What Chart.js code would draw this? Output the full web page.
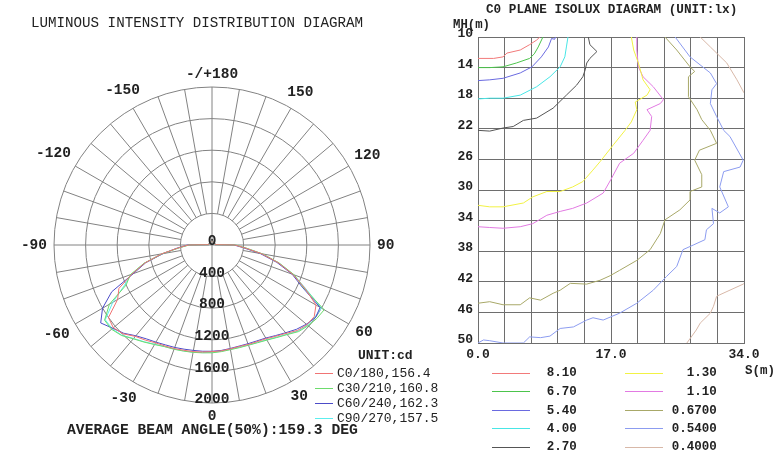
<!DOCTYPE html>
<html>
<head>
<meta charset="utf-8">
<script src="https://cdn.jsdelivr.net/npm/chart.js@4.4.1/dist/chart.umd.min.js"></script>
<style>
  body { margin: 0; background: #fff; }
  #wrap { position: relative; width: 779px; height: 462px; overflow: hidden; font-family: "Liberation Mono", monospace; color: #222; }
  canvas { position: absolute; top: 0; }
  .t { position: absolute; white-space: pre; line-height: 1; }
  .b { font-weight: bold; }
  .ln { position: absolute; height: 1px; }
</style>
</head>
<body>
<div id="wrap">
  <canvas id="polar" width="420" height="462" style="left:0"></canvas>
  <canvas id="isolux" width="359" height="380" style="left:420px"></canvas>

  <div class="t" style="left:31px;top:15.8px;font-size:14.2px">LUMINOUS INTENSITY DISTRIBUTION DIAGRAM</div>
  <div class="t b" style="left:67px;top:422.5px;font-size:14.7px">AVERAGE BEAM ANGLE(50%):159.3 DEG</div>
  <div class="t b" style="left:358px;top:349.3px;font-size:13px">UNIT:cd</div>

  <div class="t b" style="left:486px;top:4.4px;font-size:12.7px">C0 PLANE ISOLUX DIAGRAM (UNIT:lx)</div>
  <div class="t b" style="left:453px;top:18.6px;font-size:12.3px">MH(m)</div>
  <div class="t b" style="left:745px;top:364.5px;font-size:12.5px">S(m)</div>
  <div id="legends"></div>
</div>
<script>
// ---- luminous intensity (cd), one value every 5 deg, clockwise from the top (180) ----
const gamma = [180, 175, 170, 165, 160, 155, 150, 145, 140, 135, 130, 125, 120, 115, 110, 105, 100, 95,
  90, 85, 80, 75, 70, 65, 60, 55, 50, 45, 40, 35, 30, 25, 20, 15, 10, 5,
  0, -5, -10, -15, -20, -25, -30, -35, -40, -45, -50, -55, -60, -65, -70, -75, -80, -85,
  -90, -95, -100, -105, -110, -115, -120, -125, -130, -135, -140, -145, -150, -155, -160, -165, -170, -175];

const c0 = [40, 40, 40, 40, 40, 40, 40, 40, 40, 40, 40, 40, 40, 40, 40, 40, 40, 40,
  290, 420, 640, 870, 1090, 1300, 1520, 1580, 1570, 1530, 1460, 1410, 1370, 1350, 1340, 1330, 1335, 1345,
  1350, 1360, 1370, 1380, 1395, 1410, 1430, 1470, 1510, 1590, 1630, 1600, 1380, 1300, 1080, 880, 650, 430,
  300, 40, 40, 40, 40, 40, 40, 40, 40, 40, 40, 40, 40, 40, 40, 40, 40, 40];
const c30 = [40, 40, 40, 40, 40, 40, 40, 40, 40, 40, 40, 40, 40, 40, 40, 40, 40, 40,
  300, 430, 650, 880, 1110, 1280, 1640, 1620, 1590, 1550, 1480, 1430, 1390, 1365, 1350, 1345, 1345, 1355,
  1365, 1370, 1380, 1390, 1405, 1420, 1455, 1500, 1550, 1620, 1660, 1660, 1500, 1200, 1100, 890, 640, 420,
  290, 40, 40, 40, 40, 40, 40, 40, 40, 40, 40, 40, 40, 40, 40, 40, 40, 40];
const c60 = [40, 40, 40, 40, 40, 40, 40, 40, 40, 40, 40, 40, 40, 40, 40, 40, 40, 40,
  280, 400, 620, 850, 1080, 1260, 1580, 1600, 1560, 1510, 1450, 1400, 1360, 1340, 1330, 1325, 1330, 1340,
  1345, 1350, 1355, 1365, 1380, 1395, 1420, 1450, 1500, 1580, 1640, 1720, 1600, 1400, 1060, 870, 630, 440,
  310, 40, 40, 40, 40, 40, 40, 40, 40, 40, 40, 40, 40, 40, 40, 40, 40, 40];
const c90 = [40, 40, 40, 40, 40, 40, 40, 40, 40, 40, 40, 40, 40, 40, 40, 40, 40, 40,
  295, 425, 645, 875, 1100, 1310, 1600, 1590, 1580, 1540, 1475, 1425, 1385, 1360, 1348, 1340, 1340, 1350,
  1360, 1368, 1378, 1388, 1400, 1418, 1450, 1495, 1545, 1615, 1650, 1650, 1450, 1230, 1090, 885, 645, 425,
  295, 40, 40, 40, 40, 40, 40, 40, 40, 40, 40, 40, 40, 40, 40, 40, 40, 40];

const polarNames = ["C0/180,156.4", "C30/210,160.8", "C60/240,162.3", "C90/270,157.5"];
const polarColors = ["#f07474", "#6ddc6d", "#4c4cc8", "#5ceeee"];
const angleTicks = [180, 150, 120, 90, 60, 30, 0, -30, -60, -90, -120, -150];
const cdTicks = [0, 400, 800, 1200, 1600, 2000];

// ---- isolux lines, [S (m), MH (m)] ----
const iso810 = [[0, 12.8], [2, 12.8], [3.2, 12.6], [3.7, 12.1], [5.4, 11.7], [6.6, 11.0], [7.5, 10.4], [7.9, 10.0]];
const iso670 = [[0, 14.0], [1.5, 14.0], [3.2, 13.9], [4.9, 13.4], [6.6, 12.8], [7.2, 12.2], [7.7, 11.3], [8.3, 10.0]];
const iso540 = [[0, 15.7], [1.5, 15.6], [3.2, 15.4], [5.4, 14.7], [6.9, 13.9], [8.1, 12.6], [9.0, 11.3], [9.4, 10.2], [9.8, 10.3], [9.9, 10.0]];
const iso400 = [[0, 18.1], [1.5, 18.0], [3.2, 18.0], [5.4, 17.6], [7.5, 16.5], [9.2, 15.2], [10.5, 13.9], [11.1, 12.6], [11.3, 11.3], [11.5, 10.0]];
const iso270 = [[0, 22.2], [1.5, 22.3], [3.2, 21.9], [4.5, 21.7], [5.8, 20.9], [7.5, 20.6], [9.6, 19.3], [11.3, 17.6], [12.6, 16.3],
  [13.4, 15.2], [13.7, 14.3], [13.9, 13.4], [14.3, 12.8], [15.2, 11.9], [14.3, 11.0], [14.1, 10.0]];
const iso130 = [[0, 32.0], [1.5, 32.2], [3.2, 32.2], [5.8, 31.7], [7.0, 30.9], [8.8, 30.2], [10.5, 30.2], [12.1, 29.6], [13.4, 28.9],
  [14.6, 27.5], [15.6, 26.3], [17.3, 24.1], [18.8, 22.2], [19.6, 21.1], [20.3, 19.5], [20.1, 18.5], [21.6, 17.6], [22.0, 16.9],
  [21.1, 15.6], [20.5, 13.4], [19.9, 11.7], [19.6, 10.0]];
const iso110 = [[0, 34.8], [1.5, 34.9], [3.2, 35.0], [5.4, 34.8], [7.0, 34.4], [8.8, 33.3], [10.5, 32.8], [12.1, 32.4], [13.9, 31.7],
  [16.0, 30.4], [17.0, 28.6], [18.1, 26.5], [19.9, 25.2], [21.1, 23.5], [22.0, 22.2], [22.2, 20.4], [21.6, 19.5], [23.3, 18.7],
  [23.7, 18.2], [22.4, 16.5], [21.1, 15.2], [20.5, 13.9], [20.3, 11.7], [20.3, 10.0]];
const iso067 = [[0, 44.8], [1.5, 44.6], [3.2, 45.0], [5.4, 45.0], [6.6, 44.1], [8.0, 44.4], [9.6, 43.5], [10.5, 43.1], [11.8, 42.2],
  [13.9, 42.3], [15.6, 41.8], [16.9, 41.2], [18.1, 40.5], [20.3, 39.2], [22.0, 37.8], [23.3, 35.7], [23.9, 33.9], [25.8, 32.6],
  [27.1, 31.3], [27.1, 30.2], [28.6, 29.6], [28.6, 28.0], [27.7, 26.1], [28.3, 24.8], [30.5, 23.9], [29.7, 22.2], [28.6, 20.8],
  [28.0, 19.5], [26.9, 17.8], [26.9, 15.2], [27.7, 14.5], [27.1, 13.9], [25.4, 11.7], [23.9, 10.0]];
const iso054 = [[0, 50.0], [0.7, 49.6], [1.5, 49.7], [3.2, 50.0], [5.8, 50.0], [6.6, 49.2], [8.0, 49.3], [9.2, 49.1], [10.5, 48.1],
  [12.2, 47.9], [13.9, 47.0], [14.7, 46.7], [16.0, 47.0], [18.1, 46.1], [20.3, 44.8], [22.4, 43.1], [24.1, 41.3], [25.4, 40.0],
  [26.2, 37.8], [27.5, 37.2], [29.0, 36.5], [29.2, 35.2], [30.1, 34.4], [29.9, 32.4], [30.9, 33.0], [32.0, 32.2], [30.9, 29.6],
  [31.4, 27.6], [33.5, 27.0], [33.9, 26.1], [32.2, 23.0], [31.4, 22.2], [30.5, 20.4], [29.7, 18.7], [29.9, 16.9], [30.5, 16.1],
  [29.7, 14.7], [27.1, 12.6], [25.2, 10.0]];
const iso040top = [[28.4, 10.0], [29.7, 11.3], [31.8, 13.4], [33.1, 15.6], [34.0, 17.3]];
const iso040bottom = [[26.7, 50.0], [27.9, 48.3], [28.4, 47.4], [29.7, 46.1], [30.1, 45.2], [30.5, 43.9], [30.9, 43.7], [33.9, 42.3], [34.0, 42.2]];

const isoLevels = ["8.10", "6.70", "5.40", "4.00", "2.70", "1.30", "1.10", "0.6700", "0.5400", "0.4000"];
const isoColors = ["#f27a7a", "#4cc44c", "#6a6ae0", "#48e6e6", "#555555", "#f2f244", "#e27ae2", "#a8a868", "#8c9cf0", "#d8b8a8"];
const isoLines = [[iso810], [iso670], [iso540], [iso400], [iso270], [iso130], [iso110], [iso067], [iso054], [iso040top, iso040bottom]];
const sTicks = [0, 17, 34];

const monoFont = "'Liberation Mono', monospace";
const polarGrid = "#828282";
const isoGrid = "#6e6e6e";

// ---- polar chart ----
const polarDecor = {
  id: "polarDecor",
  beforeDatasetsDraw(chart) {
    const s = chart.scales.r;
    const ctx = chart.ctx;
    ctx.save();
    ctx.strokeStyle = polarGrid;
    ctx.lineWidth = 1;
    gamma.forEach((g, i) => {
      if (g % 10 !== 0) return;
      const a = s.getPointPositionForValue(i, g % 90 === 0 ? 0 : 400);
      const b = s.getPointPositionForValue(i, 2000);
      ctx.beginPath();
      ctx.moveTo(a.x, a.y);
      ctx.lineTo(b.x, b.y);
      ctx.stroke();
    });
    ctx.restore();
  },
  afterDatasetsDraw(chart) {
    const s = chart.scales.r;
    const ctx = chart.ctx;
    ctx.save();
    ctx.font = "bold 14.5px " + monoFont;
    ctx.fillStyle = "#222";
    ctx.textAlign = "center";
    ctx.textBaseline = "middle";
    angleTicks.forEach(g => {
      const i = gamma.indexOf(g);
      const text = g === 180 ? "-/+180" : String(g);
      const th = i * 5 * Math.PI / 180;
      const w = ctx.measureText(text).width;
      const ext = Math.abs(Math.sin(th)) * w / 2 + Math.abs(Math.cos(th)) * 6;
      const p = s.getPointPosition(i, s.drawingArea + 7 + ext);
      ctx.fillText(text, p.x, p.y);
    });
    const i0 = gamma.indexOf(0);
    cdTicks.forEach(v => {
      const p = s.getPointPositionForValue(i0, v);
      ctx.fillText(String(v), p.x, p.y - 3.5);
    });
    ctx.restore();
  }
};

new Chart(document.getElementById("polar"), {
  type: "radar",
  data: {
    labels: gamma,
    datasets: [c0, c30, c60, c90].map((d, k) => ({
      label: polarNames[k],
      data: d,
      borderColor: polarColors[k],
      borderWidth: 1,
      fill: false,
      pointRadius: 0,
      tension: 0
    }))
  },
  options: {
    responsive: false,
    animation: false,
    layout: {padding: {left: 54, right: 50, top: 87, bottom: 59}},
    plugins: {legend: {display: false}, tooltip: {enabled: false}},
    scales: {
      r: {
        min: 0,
        max: 2000,
        startAngle: 0,
        ticks: {stepSize: 400, display: false},
        grid: {color: polarGrid, lineWidth: 1, circular: true},
        angleLines: {display: false},
        pointLabels: {display: false}
      }
    }
  },
  plugins: [polarDecor]
});

// ---- isolux chart ----
const isoDatasets = [];
isoLines.forEach((parts, k) => {
  parts.forEach(pts => {
    isoDatasets.push({
      label: isoLevels[k],
      data: pts.map(p => ({x: p[0], y: p[1]})),
      borderColor: isoColors[k],
      borderWidth: 1,
      showLine: true,
      pointRadius: 0,
      fill: false
    });
  });
});

const tickFont = {family: monoFont, size: 13, weight: "bold"};

new Chart(document.getElementById("isolux"), {
  type: "scatter",
  data: {datasets: isoDatasets},
  options: {
    responsive: false,
    animation: false,
    layout: {padding: {left: 33, right: 35, top: 37, bottom: 17}},
    plugins: {legend: {display: false}, tooltip: {enabled: false}},
    scales: {
      x: {
        type: "linear",
        min: 0,
        max: 34,
        afterFit: s => { s.height = 20; },
        ticks: {
          stepSize: 3.4,
          autoSkip: false,
          maxRotation: 0,
          padding: 4,
          color: "#222",
          font: tickFont,
          callback: v => sTicks.includes(v) ? v.toFixed(1) : ""
        },
        grid: {color: isoGrid, drawTicks: false},
        border: {color: isoGrid}
      },
      y: {
        min: 10,
        max: 50,
        reverse: true,
        afterFit: s => { s.width = 25; },
        ticks: {stepSize: 4, padding: 5, labelOffset: -3, color: "#222", font: tickFont},
        grid: {color: isoGrid, drawTicks: false},
        border: {color: isoGrid}
      }
    }
  }
});

// ---- legends ----
const legends = document.getElementById("legends");
function addLine(left, width, y, color) {
  const d = document.createElement("div");
  d.className = "ln";
  d.style.left = left + "px";
  d.style.width = width + "px";
  d.style.top = Math.round(y) + "px";
  d.style.background = color;
  legends.appendChild(d);
}
function addText(text, css) {
  const d = document.createElement("div");
  d.className = "t";
  d.textContent = text;
  Object.assign(d.style, css);
  legends.appendChild(d);
}

const polarRows = [373, 388, 403, 417.5];
polarNames.forEach((name, k) => {
  addLine(315, 18, polarRows[k], polarColors[k]);
  addText(name, {left: "337px", top: (polarRows[k] - 5.7) + "px", fontSize: "13px"});
});

const isoRows = [372.7, 391, 410, 428.3, 446.7];
isoLevels.forEach((lv, k) => {
  const row = isoRows[k % 5];
  const top = (row - 5.5) + "px";
  if (k < 5) {
    addLine(492, 38, row, isoColors[k]);
    addText(lv, {left: "546.7px", top: top, fontSize: "12.5px", fontWeight: "bold"});
  } else {
    addLine(625, 38, row, isoColors[k]);
    addText(lv, {right: "62.3px", top: top, fontSize: "12.5px", fontWeight: "bold", textAlign: "right"});
  }
});
</script>
</body>
</html>
